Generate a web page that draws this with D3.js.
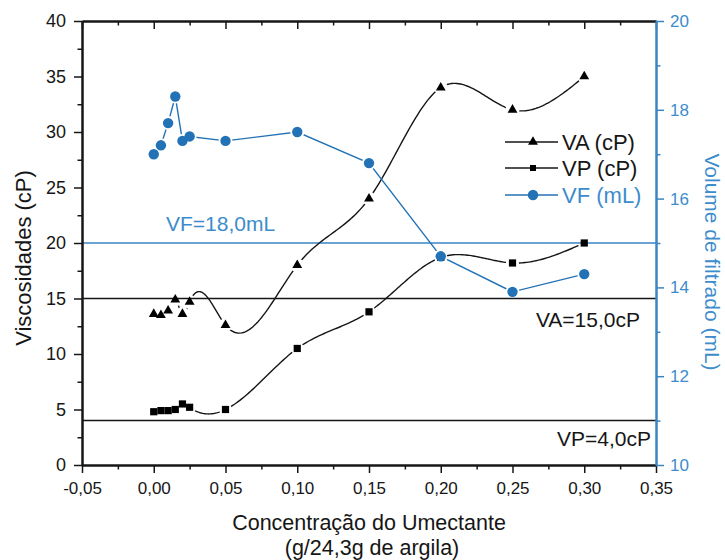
<!DOCTYPE html>
<html>
<head>
<meta charset="utf-8">
<script src="https://cdn.jsdelivr.net/npm/d3@7"></script>
<style>
  html, body { margin: 0; padding: 0; background: #fff; }
  svg { display: block; font-family: "Liberation Sans", Arial, sans-serif; }
</style>
</head>
<body>
<svg id="chart" width="725" height="560"></svg>
<script>
// ---------------- data ----------------
const concentration = [0, 0.005, 0.01, 0.015, 0.02, 0.025, 0.05, 0.10, 0.15, 0.20, 0.25, 0.30];
const vaValues = [13.6, 13.5, 13.9, 14.9, 13.6, 14.7, 12.6, 18.0, 24.0, 34.0, 32.0, 35.0];
const vpValues = [4.8, 4.9, 4.9, 5.0, 5.5, 5.2, 5.0, 10.5, 13.8, 18.7, 18.2, 20.0];
const vfValues = [17.0, 17.2, 17.7, 18.3, 17.3, 17.4, 17.3, 17.5, 16.8, 14.7, 13.9, 14.3];

const xTicks = [-0.05, 0, 0.05, 0.10, 0.15, 0.20, 0.25, 0.30, 0.35];
const xTickLabels = ["-0,05", "0,00", "0,05", "0,10", "0,15", "0,20", "0,25", "0,30", "0,35"];
const yLeftTicks = [0, 5, 10, 15, 20, 25, 30, 35, 40];
const yRightTicks = [10, 12, 14, 16, 18, 20];

const refVA = 15.0;   // left axis
const refVP = 4.0;    // left axis
const refVF = 15.0;   // right axis position of the VF reference line
const refLabels = ["VF=18,0mL", "VA=15,0cP", "VP=4,0cP"];
const legendLabels = ["VA (cP)", "VP (cP)", "VF (mL)"];

// ---------------- layout ----------------
const BLUE = "#2372b6";
const BLUE_TXT = "#3d8ccb";
const INK = "#161616";
const svg = d3.select("#chart");
const L = 82, R = 656, T = 21, B = 465;

const x = d3.scaleLinear().domain([-0.05, 0.35]).range([L, R]);
const yL = d3.scaleLinear().domain([0, 40]).range([B, T]);
const yR = d3.scaleLinear().domain([10, 20]).range([B, T]);

// natural cubic spline y(x)
function naturalSpline(xs, ys, perSeg) {
  const n = xs.length;
  const h = [], M = new Array(n).fill(0);
  for (let i = 0; i < n - 1; i++) h.push(xs[i + 1] - xs[i]);
  const a = [], b = [], c = [], d = [];
  for (let i = 1; i < n - 1; i++) {
    a.push(h[i - 1]); b.push(2 * (h[i - 1] + h[i])); c.push(h[i]);
    d.push(6 * ((ys[i + 1] - ys[i]) / h[i] - (ys[i] - ys[i - 1]) / h[i - 1]));
  }
  const m = b.length;
  for (let i = 1; i < m; i++) {
    const w = a[i] / b[i - 1];
    b[i] -= w * c[i - 1];
    d[i] -= w * d[i - 1];
  }
  const sol = new Array(m);
  sol[m - 1] = d[m - 1] / b[m - 1];
  for (let i = m - 2; i >= 0; i--) sol[i] = (d[i] - c[i] * sol[i + 1]) / b[i];
  for (let i = 0; i < m; i++) M[i + 1] = sol[i];
  const out = [];
  for (let i = 0; i < n - 1; i++) {
    for (let k = 0; k < perSeg; k++) {
      const t = xs[i] + (h[i] * k) / perSeg;
      const A = (xs[i + 1] - t) / h[i], Bc = (t - xs[i]) / h[i];
      const yv = A * ys[i] + Bc * ys[i + 1] +
        ((A * A * A - A) * M[i] + (Bc * Bc * Bc - Bc) * M[i + 1]) * h[i] * h[i] / 6;
      out.push([t, yv]);
    }
  }
  out.push([xs[n - 1], ys[n - 1]]);
  return out;
}

// ---------------- masks (gaps around markers) ----------------
const defs = svg.append("defs");
function makeMask(id, yScale, vals, r) {
  const mk = defs.append("mask").attr("id", id)
    .attr("maskUnits", "userSpaceOnUse")
    .attr("x", 0).attr("y", 0).attr("width", 725).attr("height", 560);
  mk.append("rect").attr("width", 725).attr("height", 560).attr("fill", "#fff");
  mk.selectAll("circle").data(concentration).join("circle")
    .attr("cx", (d) => x(d)).attr("cy", (d, i) => yScale(vals[i])).attr("r", r).attr("fill", "#000");
}
makeMask("mVA", yL, vaValues, 7);
makeMask("mVP", yL, vpValues, 6.5);
makeMask("mVF", yR, vfValues, 7);

// ---------------- reference lines ----------------
svg.append("line").attr("x1", L).attr("x2", R).attr("y1", yR(refVF)).attr("y2", yR(refVF))
  .attr("stroke", "#3a86c4").attr("stroke-width", 1.6);
svg.append("line").attr("x1", L).attr("x2", R).attr("y1", yL(refVA)).attr("y2", yL(refVA))
  .attr("stroke", INK).attr("stroke-width", 1.5);
svg.append("line").attr("x1", L).attr("x2", R).attr("y1", yL(refVP)).attr("y2", yL(refVP))
  .attr("stroke", INK).attr("stroke-width", 1.5);

svg.append("text").attr("x", 166).attr("y", 231).text(refLabels[0])
  .attr("fill", BLUE_TXT).attr("font-size", 21);
svg.append("text").attr("x", 640).attr("y", 327).attr("text-anchor", "end").text(refLabels[1])
  .attr("fill", INK).attr("font-size", 21);
svg.append("text").attr("x", 651).attr("y", 446).attr("text-anchor", "end").text(refLabels[2])
  .attr("fill", INK).attr("font-size", 21);

// ---------------- axes ----------------
function styleAxis(g, color, fs) {
  g.select(".domain").attr("stroke", color).attr("stroke-width", 2);
  g.selectAll(".tick line").attr("stroke", color).attr("stroke-width", 1.5);
  g.selectAll(".tick text").attr("fill", color).attr("font-size", fs)
    .attr("font-family", '"Liberation Sans", Arial, sans-serif');
}
const xMinor = d3.range(-0.025, 0.35, 0.05);
const yLMinor = d3.range(2.5, 40, 5);
const yRMinor = d3.range(11, 20, 2);

// bottom
const gB = svg.append("g").attr("transform", `translate(0,${B})`)
  .call(d3.axisBottom(x).tickValues(xTicks).tickSize(8).tickSizeOuter(0).tickPadding(9)
    .tickFormat((d, i) => xTickLabels[i]));
styleAxis(gB, INK, 17);
const gBm = svg.append("g").attr("transform", `translate(0,${B})`)
  .call(d3.axisBottom(x).tickValues(xMinor).tickSize(4.5).tickSizeOuter(0).tickFormat(""));
styleAxis(gBm, INK, 17);
// top (ticks inward)
const gT = svg.append("g").attr("transform", `translate(0,${T})`)
  .call(d3.axisBottom(x).tickValues(xTicks).tickSize(8).tickSizeOuter(0).tickFormat(""));
styleAxis(gT, INK, 17);
const gTm = svg.append("g").attr("transform", `translate(0,${T})`)
  .call(d3.axisBottom(x).tickValues(xMinor).tickSize(4.5).tickSizeOuter(0).tickFormat(""));
styleAxis(gTm, INK, 17);
// left
const gL = svg.append("g").attr("transform", `translate(${L},0)`)
  .call(d3.axisLeft(yL).tickValues(yLeftTicks).tickSize(8).tickSizeOuter(0).tickPadding(8)
    .tickFormat(d3.format("d")));
styleAxis(gL, INK, 18);
const gLm = svg.append("g").attr("transform", `translate(${L},0)`)
  .call(d3.axisLeft(yL).tickValues(yLMinor).tickSize(4.5).tickSizeOuter(0).tickFormat(""));
styleAxis(gLm, INK, 18);
// right (blue)
const gR = svg.append("g").attr("transform", `translate(${R},0)`)
  .call(d3.axisRight(yR).tickValues(yRightTicks).tickSize(8).tickSizeOuter(0).tickPadding(6)
    .tickFormat(d3.format("d")));
styleAxis(gR, "#3a86c4", 17);
gR.selectAll(".tick text").attr("fill", BLUE_TXT);
const gRm = svg.append("g").attr("transform", `translate(${R},0)`)
  .call(d3.axisRight(yR).tickValues(yRMinor).tickSize(4.5).tickSizeOuter(0).tickFormat(""));
styleAxis(gRm, "#3a86c4", 17);

// axis titles
svg.append("text").attr("transform", "translate(31,258) rotate(-90)")
  .attr("text-anchor", "middle").attr("font-size", 22).attr("fill", INK).text("Viscosidades (cP)");
svg.append("text").attr("transform", "translate(705,262) rotate(90)")
  .attr("text-anchor", "middle").attr("font-size", 21).attr("fill", BLUE_TXT).text("Volume de filtrado (mL)");
svg.append("text").attr("x", 369).attr("y", 530).attr("text-anchor", "middle")
  .attr("font-size", 21.5).attr("fill", INK).text("Concentração do Umectante");
svg.append("text").attr("x", 372).attr("y", 555).attr("text-anchor", "middle")
  .attr("font-size", 21.5).attr("fill", INK).text("(g/24,3g de argila)");

// ---------------- series ----------------
const lineL = d3.line().x((d) => x(d[0])).y((d) => yL(d[1]));
const lineR = d3.line().x((d) => x(d[0])).y((d) => yR(d[1]));

svg.append("path").attr("d", lineL(naturalSpline(concentration, vaValues, 40)))
  .attr("fill", "none").attr("stroke", INK).attr("stroke-width", 1.4).attr("mask", "url(#mVA)");
svg.append("g").selectAll("path").data(concentration).join("path")
  .attr("transform", (d, i) => `translate(${x(d)},${yL(vaValues[i])})`)
  .attr("d", d3.symbol(d3.symbolTriangle, 42)).attr("fill", "#000");

svg.append("path").attr("d", lineL(naturalSpline(concentration, vpValues, 40)))
  .attr("fill", "none").attr("stroke", INK).attr("stroke-width", 1.4).attr("mask", "url(#mVP)");
svg.append("g").selectAll("rect").data(concentration).join("rect")
  .attr("x", (d) => x(d) - 3.6).attr("y", (d, i) => yL(vpValues[i]) - 3.6)
  .attr("width", 7.2).attr("height", 7.2).attr("fill", "#000");

svg.append("path").attr("d", lineR(concentration.map((d, i) => [d, vfValues[i]])))
  .attr("fill", "none").attr("stroke", BLUE).attr("stroke-width", 1.4).attr("mask", "url(#mVF)");
svg.append("g").selectAll("circle").data(concentration).join("circle")
  .attr("cx", (d) => x(d)).attr("cy", (d, i) => yR(vfValues[i])).attr("r", 5.2).attr("fill", BLUE);

// ---------------- legend ----------------
const legRows = [142, 168, 195];
const lg = svg.append("g");
legendLabels.forEach((lab, i) => {
  const yy = legRows[i];
  lg.append("line").attr("x1", 505).attr("x2", 558).attr("y1", yy).attr("y2", yy)
    .attr("stroke", i === 2 ? BLUE : INK).attr("stroke-width", 1.4);
  if (i === 0) {
    lg.append("path").attr("transform", `translate(533,${yy})`)
      .attr("d", d3.symbol(d3.symbolTriangle, 42)).attr("fill", "#000");
  } else if (i === 1) {
    lg.append("rect").attr("x", 530).attr("y", yy - 3).attr("width", 6).attr("height", 6).attr("fill", "#000");
  } else {
    lg.append("circle").attr("cx", 533).attr("cy", yy).attr("r", 5.2).attr("fill", BLUE);
  }
  lg.append("text").attr("x", 562).attr("y", yy + 8).attr("font-size", 22)
    .attr("fill", i === 2 ? BLUE_TXT : INK).text(lab);
});
</script>
</body>
</html>
